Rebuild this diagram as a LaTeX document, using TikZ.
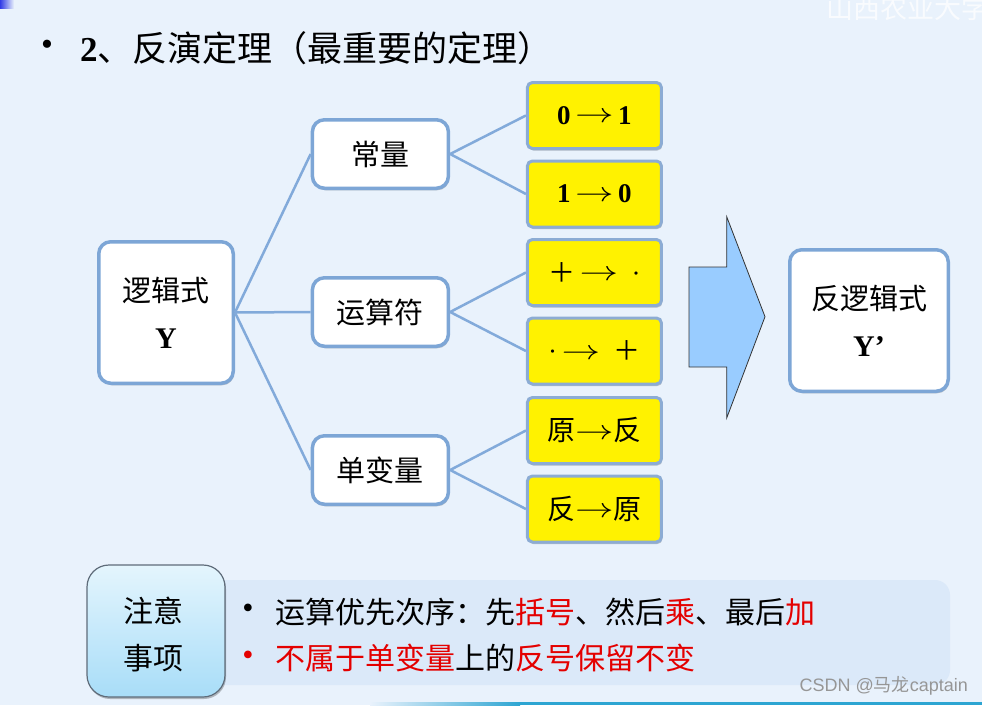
\documentclass[tikz,border=0pt]{standalone}
\usepackage{graphicx}
\usepackage{fontspec}
\setmainfont{Liberation Serif}
\newfontfamily\cjk{Noto Sans CJK SC}
\newfontfamily\wmfont{Liberation Sans}
\usetikzlibrary{shadows}
\definecolor{bg}{RGB}{233,242,252}
\definecolor{bord}{RGB}{125,166,214}
\definecolor{linkc}{RGB}{130,170,218}
\definecolor{ybord}{RGB}{140,172,212}
\definecolor{arrowfill}{RGB}{153,204,255}
\definecolor{panelc}{RGB}{219,233,249}
\definecolor{notetop}{RGB}{228,245,253}
\definecolor{notebot}{RGB}{168,221,248}
\definecolor{hl}{RGB}{228,0,0}
\definecolor{wmgray}{RGB}{150,150,150}
\definecolor{edgec}{RGB}{45,165,210}
\newcommand{\setfs}[2]{\fontsize{#1}{#2}\selectfont}
\newcommand{\longarr}{\raisebox{1.5pt}{\scalebox{1.55}[1.1]{$\rightarrow$}}}
\tikzset{
  shd/.style={drop shadow={shadow xshift=1pt, shadow yshift=-2pt, opacity=0.22, fill=black}},
  wbox/.style={draw=bord, line width=3.5pt, fill=white, rounded corners=12pt,
    inner sep=0pt, align=center, shd},
  ybox/.style={draw=ybord, line width=3pt, fill=yellow, rounded corners=5pt,
    minimum width=134pt, minimum height=66pt, inner sep=0pt, shd, font=\setfs{27}{32}},
  linkline/.style={draw=linkc, line width=2.5pt},
  plain/.style={inner sep=0pt, outer sep=0pt},
}
\begin{document}
\begin{tikzpicture}[x=1pt, y=-1pt]
\path[use as bounding box, fill=bg] (0,0) rectangle (982,705);
\begin{scope}
\clip (0,0) rectangle (982,705);
% slide decorations
\shade[left color={rgb,255:red,50;green,60;blue,230}, right color=bg] (0,0) rectangle (14,8);
\node[plain, anchor=west, text=white, opacity=0.75, font=\cjk\setfs{27}{30}] (wmtop) at (826,8) {山西农业大学};
\shade[left color=bg, right color=edgec] (370,702) rectangle (520,705);
\fill[edgec] (520,702) rectangle (982,705);

% title
\node[plain, font=\setfs{34}{38}] (tbul) at (47,48) {•};
\node[plain, anchor=west, font=\setfs{35}{40}] (title) at (80,48) {\textbf{2}{\cjk 、反演定理（最重要的定理）}};

% tree
\node[wbox, minimum width=134.5pt, minimum height=141.5pt, font=\setfs{29}{47}] (Y) at (166,312.5)
  {{\cjk 逻辑式}\\\textbf{\setfs{30}{47}Y}};
\node[wbox, minimum width=136pt, minimum height=68.5pt, font=\cjk\setfs{29}{34}] (c) at (380.4,154) {常量};
\node[wbox, minimum width=136pt, minimum height=68.5pt, font=\cjk\setfs{29}{34}] (o) at (380.4,312) {运算符};
\node[wbox, minimum width=136pt, minimum height=68.5pt, font=\cjk\setfs{29}{34}] (v) at (380.4,470) {单变量};

\node[ybox] (y1) at (594.4,115.5) {\textbf{0\,\longarr\,1}};
\node[ybox] (y2) at (594.4,194) {\textbf{1\,\longarr\,0}};
\node[ybox] (y3) at (594.4,272.5) {{\cjk ＋}\,\longarr\enspace·};
\node[ybox] (y4) at (594.4,351) {·\,\longarr\enspace{\cjk ＋}};
\node[ybox] (y5) at (594.4,430.5) {{\cjk\setfs{28}{32}原}\longarr{\cjk\setfs{28}{32}反}};
\node[ybox] (y6) at (594.4,509) {{\cjk\setfs{28}{32}反}\longarr{\cjk\setfs{28}{32}原}};

\draw[linkline] (Y.east) -- (c.west);
\draw[linkline] (Y.east) -- (o.west);
\draw[linkline] (Y.east) -- (v.west);
\draw[linkline] (c.east) -- (y1.west);
\draw[linkline] (c.east) -- (y2.west);
\draw[linkline] (o.east) -- (y3.west);
\draw[linkline] (o.east) -- (y4.west);
\draw[linkline] (v.east) -- (y5.west);
\draw[linkline] (v.east) -- (y6.west);

% big arrow
\draw[fill=arrowfill, draw=black!80, line width=0.8pt, line join=miter]
  (689,267) -- (726.7,267) -- (726.7,216.7) -- (765,316.7) -- (726.7,418)
  -- (726.7,367) -- (689,367) -- cycle;

\node[wbox, minimum width=158.5pt, minimum height=141.5pt, font=\setfs{29}{47}] (Yp) at (869,320.5)
  {{\cjk 反逻辑式}\\\textbf{\setfs{30}{47}Y’}};

% notes
\fill[panelc, rounded corners=15pt] (200,580) rectangle (950,685);
\shade[top color=notetop, bottom color=notebot, draw={rgb,255:red,95;green,108;blue,122},
  line width=1.2pt, rounded corners=22pt, drop shadow={shadow xshift=1pt, shadow yshift=-2pt, opacity=0.25, fill=black}]
  (87,565) rectangle (225,697);
\node[plain, align=center, font=\cjk\setfs{30}{46.5}] (note) at (153,634.5) {注意\\事项};

\node[plain, font=\setfs{32}{36}] (b1) at (248,611) {•};
\node[plain, font=\setfs{32}{36}, text=hl] (b2) at (248,658) {•};
\node[plain, anchor=west, font=\cjk\setfs{30}{34}] (l1) at (275,611.7)
  {运算优先次序：先\textcolor{hl}{括号}、然后\textcolor{hl}{乘}、最后\textcolor{hl}{加}};
\node[plain, anchor=west, font=\cjk\setfs{30}{34}] (l2) at (275,658)
  {\textcolor{hl}{不属于单变量}上的\textcolor{hl}{反号保留不变}};

\node[plain, anchor=east, text=wmgray, font=\wmfont\setfs{18}{22}] (wm) at (968,686)
  {CSDN @{\cjk 马龙}captain};
\end{scope}
\end{tikzpicture}
\end{document}
